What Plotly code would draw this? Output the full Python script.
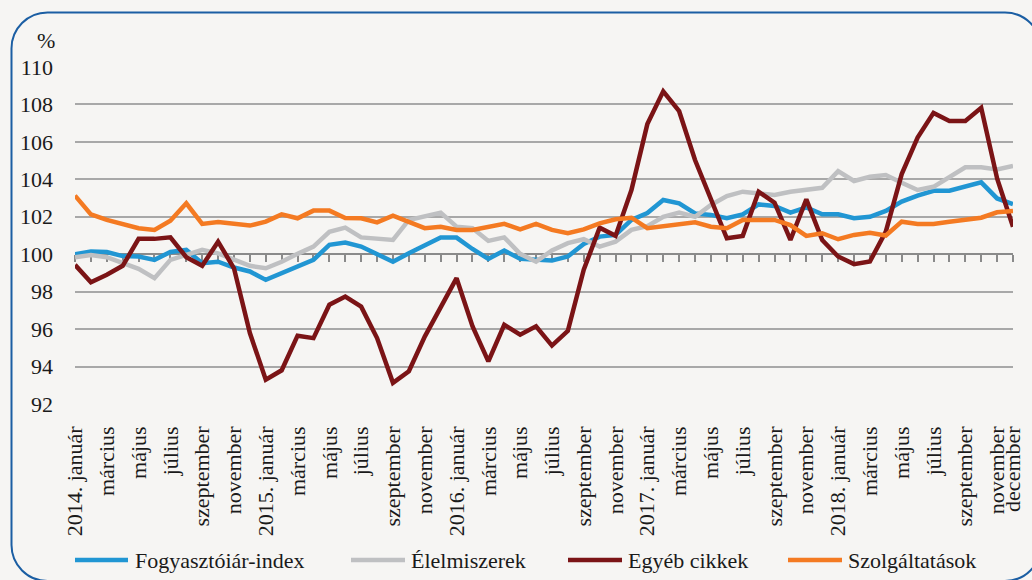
import plotly.graph_objects as go

# ---------------- data ----------------
month_names = ["január", "február", "március", "április", "május", "június",
               "július", "augusztus", "szeptember", "október", "november", "december"]
years = [2014, 2015, 2016, 2017, 2018]

series_names = ["Fogyasztóiár-index", "Élelmiszerek", "Egyéb cikkek", "Szolgáltatások"]
series_colors = ["#2196d3", "#bfc0c2", "#7b1416", "#f47a22"]

cpi = [100.0, 100.14, 100.12, 99.9, 99.88, 99.7, 100.12, 100.23, 99.52, 99.6, 99.29, 99.08,
       98.63, 98.99, 99.34, 99.7, 100.5, 100.62, 100.41, 100.02, 99.6, 100.05, 100.46, 100.89,
       100.89, 100.28, 99.75, 100.2, 99.75, 99.72, 99.66, 99.88, 100.55, 100.94, 101.03, 101.83,
       102.2, 102.9, 102.72, 102.18, 102.1, 101.92, 102.13, 102.66, 102.58, 102.22, 102.5, 102.13,
       102.13, 101.92, 102.0, 102.31, 102.81, 103.13, 103.39, 103.39, 103.6, 103.84, 102.98, 102.68]

food = [99.84, 99.96, 99.84, 99.52, 99.22, 98.72, 99.7, 99.96, 100.23, 100.05, 99.7, 99.38,
        99.25, 99.6, 100.02, 100.41, 101.2, 101.42, 100.9, 100.85, 100.76, 101.83, 102.0, 102.22,
        101.47, 101.39, 100.71, 100.9, 100.02, 99.6, 100.2, 100.59, 100.8, 100.41, 100.67, 101.3,
        101.5, 102.0, 102.22, 102.0, 102.63, 103.11, 103.34, 103.25, 103.16, 103.34, 103.43, 103.55,
        104.44, 103.91, 104.14, 104.23, 103.82, 103.43, 103.6, 104.14, 104.64, 104.64, 104.53, 104.72]

other = [99.43, 98.5, 98.9, 99.38, 100.82, 100.82, 100.9, 99.84, 99.38, 100.67, 99.25, 95.79,
         93.3, 93.8, 95.65, 95.52, 97.3, 97.74, 97.2, 95.52, 93.13, 93.75, 95.6, 97.2,
         98.72, 96.15, 94.28, 96.23, 95.7, 96.15, 95.12, 95.91, 99.17, 101.42, 100.98, 103.43,
         106.95, 108.7, 107.64, 105.03, 102.98, 100.85, 100.98, 103.34, 102.75, 100.76, 102.93, 100.76,
         99.88, 99.47, 99.61, 101.21, 104.28, 106.23, 107.55, 107.12, 107.12, 107.82, 104.05, 101.47]

services = [103.13, 102.13, 101.83, 101.62, 101.39, 101.3, 101.79, 102.72, 101.62, 101.72, 101.63, 101.53,
            101.74, 102.13, 101.92, 102.33, 102.33, 101.93, 101.92, 101.7, 102.06, 101.74, 101.39, 101.47,
            101.3, 101.3, 101.44, 101.62, 101.33, 101.62, 101.3, 101.12, 101.33, 101.65, 101.87, 101.95,
            101.39, 101.51, 101.62, 101.7, 101.47, 101.39, 101.83, 101.83, 101.83, 101.56, 100.98, 101.12,
            100.8, 101.03, 101.15, 101.0, 101.74, 101.62, 101.62, 101.74, 101.83, 101.95, 102.24, 102.31]

y_ticks = [92, 94, 96, 98, 100, 102, 104, 106, 108, 110]

# ---------------- derived ----------------
labels = []
for y in years:
    for m, name in enumerate(month_names):
        labels.append(f"{y}. {name}" if m == 0 else name)
x_idx = list(range(len(labels)))
tick_vals = [i for i in x_idx if i % 2 == 0] + [x_idx[-1]]
tick_text = [labels[i] for i in tick_vals]

W, H = 1032, 580
ML, MR, MT, MB = 75, 19, 67, 176
PW, PH = W - ML - MR, H - MT - MB

def px(xp):
    return (xp - ML) / PW

def py(yp):
    return (H - MB - yp) / PH

FONT = "Liberation Serif"
TXT = "#1a1a1a"
FS = 22

fig = go.Figure()
all_series = [cpi, food, other, services]
for name, col, vals in zip(series_names, series_colors, all_series):
    fig.add_trace(go.Scatter(x=x_idx, y=vals, name=name, mode="lines",
                             line=dict(color=col, width=4.5), showlegend=False))

# invisible trace carrying the horizontal axis that crosses at 100
fig.add_trace(go.Scatter(x=[x_idx[0], x_idx[-1]], y=[100, 100], xaxis="x2", mode="lines",
                         line=dict(width=0), hoverinfo="skip", showlegend=False))

shapes = []
annotations = []

# rounded frame
x0, y0, x1, y1, r = 11.5, 12.5, 1041, 581, 36
k = 0.5523 * r
pts = [
    ("M", [(x0 + r, y0)]),
    ("L", [(x1 - r, y0)]),
    ("C", [(x1 - r + k, y0), (x1, y0 + r - k), (x1, y0 + r)]),
    ("L", [(x1, y1 - r)]),
    ("C", [(x1, y1 - r + k), (x1 - r + k, y1), (x1 - r, y1)]),
    ("L", [(x0 + r, y1)]),
    ("C", [(x0 + r - k, y1), (x0, y1 - r + k), (x0, y1 - r)]),
    ("L", [(x0, y0 + r)]),
    ("C", [(x0, y0 + r - k), (x0 + r - k, y0), (x0 + r, y0)]),
]
path = ""
for cmd, ps in pts:
    path += cmd + " ".join(f"{px(a):.5f},{py(b):.5f}" for a, b in ps) + " "
path += "Z"
shapes.append(dict(type="path", xref="paper", yref="paper", path=path,
                   line=dict(color="#1b5ea3", width=2), layer="above"))

# legend
leg_y = 560
leg_items = [(75, 128, 133), (351, 405, 409), (568, 622, 626), (788, 842, 846)]
for (lx0, lx1, tx), name, col in zip(leg_items, series_names, series_colors):
    shapes.append(dict(type="line", xref="paper", yref="paper",
                       x0=px(lx0), x1=px(lx1), y0=py(leg_y), y1=py(leg_y),
                       line=dict(color=col, width=4.5)))
    annotations.append(dict(xref="paper", yref="paper", x=px(tx), y=py(leg_y),
                            text=name, showarrow=False, xanchor="left", yanchor="middle",
                            font=dict(family=FONT, size=FS, color=TXT)))

annotations.append(dict(xref="paper", yref="paper", x=px(46), y=py(40), text="%",
                        showarrow=False, xanchor="center", yanchor="middle",
                        font=dict(family=FONT, size=FS, color=TXT)))

fig.update_layout(
    width=W, height=H,
    margin=dict(l=ML, r=MR, t=MT, b=MB, autoexpand=False),
    paper_bgcolor="#f6f5f3", plot_bgcolor="#f6f5f3",
    font=dict(family=FONT, size=FS, color=TXT),
    showlegend=False,
    xaxis=dict(range=[x_idx[0], x_idx[-1]], tickvals=tick_vals, ticktext=tick_text,
               tickangle=-90, showgrid=False, zeroline=False, showline=False,
               ticks="", ticklabelstandoff=17, tickfont=dict(family=FONT, size=FS, color=TXT)),
    xaxis2=dict(range=[x_idx[0], x_idx[-1]], overlaying="x", anchor="free",
                position=(100 - y_ticks[0]) / (y_ticks[-1] - y_ticks[0]),
                tickvals=x_idx, showticklabels=False, ticks="outside", ticklen=7,
                tickwidth=1.5, tickcolor="#8a8a8a", showline=True, linecolor="#8a8a8a",
                linewidth=1.5, showgrid=False, zeroline=False, layer="below traces"),
    yaxis=dict(range=[y_ticks[0], y_ticks[-1]], tickvals=y_ticks, showgrid=True,
               gridcolor="#a8a8a8", gridwidth=1.5, zeroline=False, showline=False,
               ticks="", ticklabelstandoff=21, tickfont=dict(family=FONT, size=FS, color=TXT)),
    shapes=shapes,
    annotations=annotations,
)

fig.write_html("out.html", config={"displayModeBar": False},
               post_script="document.body.style.margin='0';")
